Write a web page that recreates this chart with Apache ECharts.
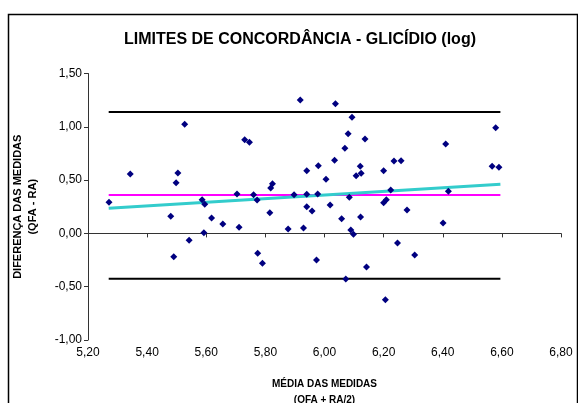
<!DOCTYPE html>
<html><head><meta charset="utf-8">
<script src="https://cdn.jsdelivr.net/npm/echarts@6/dist/echarts.min.js"></script>
<style>html,body{margin:0;padding:0;background:#fff}#c{width:578px;height:403px}</style>
</head><body><div id="c"></div>
<script>
const meanValues = [5.918,5.527,5.730,5.746,5.940,5.343,5.504,5.498,5.824,5.818,5.704,5.760,5.897,5.940,5.271,5.586,5.595,5.772,5.940,5.480,5.618,5.656,5.711,5.815,5.877,5.929,5.592,5.542,5.490,5.774,5.790,6.037,6.093,6.579,6.080,6.137,6.410,6.069,6.034,5.979,6.121,6.235,6.259,6.200,6.124,6.107,6.567,6.590,6.005,6.224,6.419,5.977,6.084,5.958,6.019,6.209,6.200,6.279,6.058,6.122,6.089,6.098,6.401,6.247,5.973,6.142,6.305,6.072,6.206];
const diffValues = [1.251,1.023,0.879,0.854,0.588,0.557,0.567,0.476,0.466,0.426,0.370,0.363,0.363,0.367,0.292,0.316,0.273,0.313,0.250,0.160,0.144,0.088,0.057,0.194,0.041,0.051,0.007,-0.065,-0.218,-0.187,-0.281,1.217,1.089,0.992,0.935,0.886,0.839,0.798,0.686,0.635,0.629,0.679,0.682,0.588,0.564,0.541,0.629,0.620,0.507,0.407,0.395,0.370,0.339,0.210,0.266,0.316,0.288,0.219,0.138,0.154,0.032,-0.009,0.098,-0.090,-0.250,-0.315,-0.203,-0.428,-0.622];
const lineX = [5.27, 6.595];
const upperLimit = [1.14, 1.14];
const lowerLimit = [-0.425, -0.425];
const meanDiff = [0.36, 0.36];
const trendLine = [0.235, 0.46];
const xTicks = {min: 5.2, max: 6.8, interval: 0.2};
const yTicks = {min: -1.0, max: 1.5, interval: 0.5};

const pts = meanValues.map((x, i) => [x, diffValues[i]]);
const pair = ys => lineX.map((x, i) => [x, ys[i]]);
const fmt = v => v.toFixed(2).replace('.', ',');
const F = 'Liberation Sans, Arial, sans-serif';

const chart = echarts.init(document.getElementById('c'));
chart.setOption({
  animation: false,
  backgroundColor: '#fff',
  graphic: [{type:'rect', shape:{x:8.5,y:14.5,width:569,height:420}, style:{fill:'none', stroke:'#000', lineWidth:1.5}, silent:true}],
  title: {text: 'LIMITES DE CONCORDÂNCIA - GLICÍDIO (log)', left: 295, top: 27, textAlign: 'center',
    textStyle: {fontFamily: F, fontSize: 16, fontWeight: 'bold', color: '#000'}},
  grid: {left: 88, right: 17, top: 73.5, bottom: 63, outerBoundsMode: 'none', containLabel: false},
  xAxis: {type: 'value', min: xTicks.min, max: xTicks.max, interval: xTicks.interval,
    name: 'MÉDIA DAS MEDIDAS\n(QFA + RA/2)', nameLocation: 'middle', nameGap: 36,
    nameTextStyle: {fontFamily: F, fontSize: 10, fontWeight: 'bold', color: '#000', lineHeight: 16},
    axisLine: {lineStyle: {color: '#333', width: 1}}, axisTick: {length: 4, lineStyle: {color: '#333'}},
    axisLabel: {formatter: fmt, fontFamily: F, fontSize: 12, color: '#000', margin: 7},
    splitLine: {show: false}},
  yAxis: {type: 'value', min: yTicks.min, max: yTicks.max, interval: yTicks.interval,
    name: 'DIFERENÇA DAS MEDIDAS\n(QFA - RA)', nameLocation: 'middle', nameGap: 48,
    nameTextStyle: {fontFamily: F, fontSize: 11, fontWeight: 'bold', color: '#000', lineHeight: 15},
    axisLine: {show: true, lineStyle: {color: '#333', width: 1}}, axisTick: {show: true, length: 4, lineStyle: {color: '#333'}},
    axisLabel: {formatter: fmt, fontFamily: F, fontSize: 12, color: '#000', margin: 6},
    splitLine: {show: false}},
  series: [
    {type: 'line', data: pair(upperLimit), symbol: 'none', lineStyle: {color: '#000', width: 2}, z: 2},
    {type: 'line', data: pair(lowerLimit), symbol: 'none', lineStyle: {color: '#000', width: 2}, z: 2},
    {type: 'line', data: pair(meanDiff), symbol: 'none', lineStyle: {color: '#ff00ff', width: 2}, z: 3},
    {type: 'line', data: pair(trendLine), symbol: 'none', lineStyle: {color: '#33cccc', width: 3}, z: 4},
    {type: 'scatter', data: pts, symbol: 'diamond', symbolSize: 7, itemStyle: {color: '#000080', opacity: 1}, z: 5}
  ]
});
</script></body></html>
